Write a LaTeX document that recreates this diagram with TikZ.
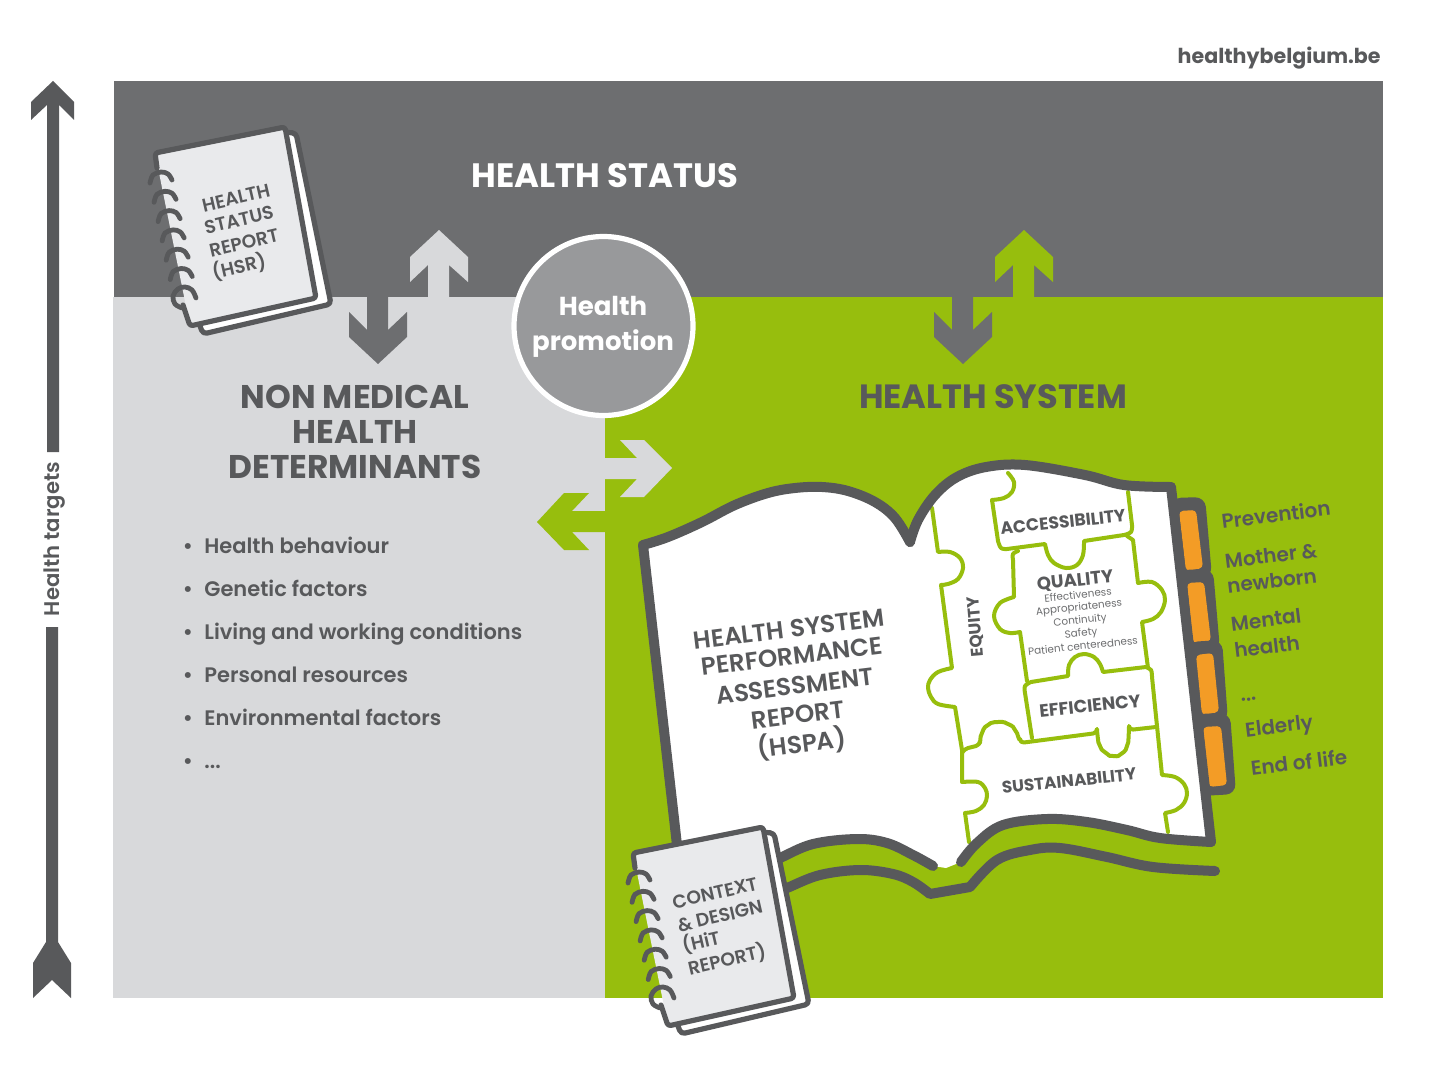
\documentclass[tikz,border=0pt]{standalone}
\usepackage{fontspec}
\setmainfont{Poppins}[BoldFont=Poppins Bold]
\newfontfamily\fmed{Poppins Medium}
\newfontfamily\fsemi{Poppins SemiBold}
\definecolor{bandgrey}{HTML}{6D6E70}
\definecolor{lightgrey}{HTML}{D8D9DB}
\definecolor{leaf}{HTML}{97BE0D}
\definecolor{ink}{HTML}{58595B}
\definecolor{tabor}{HTML}{F39C26}
\definecolor{circgrey}{HTML}{98999B}
\definecolor{coverg}{HTML}{E9EAEC}
\newcommand\fs[1]{\fontsize{#1}{#1}\selectfont}
\tikzset{
  tx/.style={inner sep=0pt,text=ink,anchor=center,font=\fs{#1},text height={#1*0.7pt},text depth=0pt},
  bookline/.style={draw=ink,line width=5pt,line cap=round,line join=round},
  pz/.style={draw=leaf,line width=2pt,line cap=round,line join=round},
  smth/.style={smooth,tension=0.6},
  nbline/.style={draw=ink,line width=2.6pt,line join=round,line cap=round},
  ring/.style={draw=ink,line width=2.4pt,line cap=round},
}
\newcommand\notebook[2]{%
\begin{scope}[shift={(#1,#2)}]
  \draw[nbline,fill=white,rounded corners=2pt] (280,132)--(296,133)--(331,304)--(203,334)--(197,318)--cycle;
  \fill[coverg] (155,153)--(285,127)--(316,298)--(190,326)--cycle;
  \draw[nbline,rounded corners=1.5pt] (157,168)--(155,153)--(285,127)--(316,298)--(190,326)--(183,305);
  \foreach \i in {0,1,2,3,4,5}{
    \draw[ring,shift={(\i*4.05,\i*19.3)}] plot[smth] coordinates {(150,183)(153,175)(161,172)(168,174)(172,180)};
  }
  \draw[ring] plot[smth] coordinates {(182,308)(175,304)(173,296)(178,289)(185,287)(192,290)(196,298)};
\end{scope}}
\begin{document}
\begin{tikzpicture}[x=0.5pt,y=-0.5pt]
\useasboundingbox (0,0) rectangle (1440,1065);
% panels
\fill[bandgrey] (114,81) rectangle (1383,297);
\fill[lightgrey] (113,297) rectangle (605,998);
\fill[leaf] (605,297) rectangle (1383,998);
% vertical arrows
\fill[lightgrey] (439,230)--(468,257)--(468,282)--(449,265)--(449,297)--(428,297)--(428,265)--(410,282)--(410,257)--cycle;
\fill[bandgrey] (378,364)--(407,337)--(407,312)--(388,330)--(388,297)--(367,297)--(367,330)--(349,312)--(349,337)--cycle;
\fill[leaf] (1024,230)--(1053,257)--(1053,282)--(1034,265)--(1034,297)--(1013,297)--(1013,265)--(995,282)--(995,257)--cycle;
\fill[bandgrey] (963,364)--(992,337)--(992,312)--(973,330)--(973,297)--(952,297)--(952,330)--(934,312)--(934,337)--cycle;
% horizontal arrows
\fill[lightgrey] (672,468)--(644,497)--(620,497)--(637,479)--(605,479)--(605,458)--(637,458)--(620,440)--(644,440)--cycle;
\fill[leaf] (537,522)--(564,493)--(589,493)--(572,511)--(605,511)--(605,532)--(572,532)--(589,550)--(564,550)--cycle;
% health targets arrow
\fill[ink] (53,81)--(74,102)--(74,120)--(59,105)--(59,452)--(47,452)--(47,105)--(31,120)--(31,102)--cycle;
\fill[ink] (46,627)--(58,627)--(58,942)--(71,963)--(71,998)--(52,980)--(33,998)--(33,963)--(46,942)--cycle;
\node[tx=10.6,rotate=90] (targets) at (52,539) {\fsemi Health targets};
% circle
\node[circle,draw=white,line width=2.6pt,fill=circgrey,minimum size=89.5pt,inner sep=0pt] (promo) at (603.5,326) {};
\node[tx=13,text=white] (promo1) at (603,306) {\bfseries Health};
\node[tx=13,text=white] (promo2) at (603,341) {\bfseries promotion};
% headings
\node[tx=16.9,text=white] (status) at (605,176) {\bfseries HEALTH STATUS};
\node[tx=16.4] (nm1) at (355,397) {\bfseries NON MEDICAL};
\node[tx=16.4] (nm2) at (355,432) {\bfseries HEALTH};
\node[tx=16.4] (nm3) at (355,467) {\bfseries DETERMINANTS};
\node[tx=16.8] (hsys) at (993,397) {\bfseries HEALTH SYSTEM};
\node[tx=10.3,anchor=east] (site) at (1381,56) {\bfseries healthybelgium.be};
% list
\foreach \n/\y/\t in {a/546/Health behaviour,b/589/Genetic factors,c/632/Living and working conditions,d/675/Personal resources,e/718/Environmental factors}{
  \node[tx=10.5] (bul\n) at (188,\y) {\fsemi •};
  \node[tx=10.5,anchor=west] (item\n) at (204,\y) {\fsemi \t};
}
\node[tx=10.5] (bulf) at (188,761) {\fsemi •};
\node[tx=10.5,anchor=west] (itemf) at (204,761) {\fsemi ...};
% tabs
\foreach \n/\ax/\ay/\bx/\by/\cx/\cy/\dx/\dy in {1/1179/511/1196/510/1203/568/1186/571,2/1187/583/1204/582/1211/641/1193/643,3/1196/655/1213/653/1219/712/1202/715,4/1203/727/1221/726/1227/785/1209/787}{
  \fill[ink,rounded corners=5pt] (\ax-8,\ay-13)--(\bx+9,\by-13)--(\cx+9,\cy+9)--(\dx-8,\dy+9)--cycle;
  \fill[tabor,rounded corners=2pt] (\ax,\ay)--(\bx,\by)--(\cx,\cy)--(\dx,\dy)--cycle;
}
% book page fill
\fill[white] plot[smth] coordinates {(643,545)(668,537)(702,522)(735,505)(768,493)(795,488)(822,487)(848,491)(875,502)(895,518)(910,542)}
  -- plot[smth] coordinates {(910,542)(918,520)(935,495)(957,477)(986,467)(1025,465)(1085,475)(1124,485)(1171,487)}
  -- (1211,842)
  -- plot[smth] coordinates {(1211,842)(1160,838)(1127,830)(1087,822)(1047,819)(1003,825)(977,843)(961,862)}
  -- (946,868) -- (933,866)
  -- plot[smth] coordinates {(933,866)(913,855)(887,843)(857,839)(813,844)(780,858)}
  -- (770,862) -- (677,845) -- cycle;
% puzzle
\draw[pz] (932,508)--(938,552) -- plot[smth] coordinates {(938,552)(950,552)(960,558)(963,568)(958,579)(948,584)(941,585)} -- (952,668) -- plot[smth] coordinates {(952,668)(938,672)(930,680)(928,688)(931,697)(938,704)(955,707)} -- (962,750) -- (962,782) -- plot[smth] coordinates {(962,782)(978,782)(985,788)(987,796)(984,805)(976,811)(965,813)} -- (969,842);
\draw[pz,rounded corners=2pt] (962,753)--(964,749)--(980,745) -- plot[smth] coordinates {(980,745)(982,733)(988,725)(998,722)(1008,724)(1015,730)(1020,743)} -- (1097,733) -- plot[smth] coordinates {(1097,733)(1100,746)(1106,753)(1113,756)(1121,754)(1127,746)(1129,730)} -- (1156,727);
\draw[pz] (1032,738)--(1025,693) -- plot[smth] coordinates {(1025,693)(1025,686)(1031,682)} -- (1068,676) -- plot[smth] coordinates {(1068,676)(1069,665)(1075,657)(1084,654)(1094,657)(1100,664)(1103,672)} -- (1146,667) -- plot[smth] coordinates {(1146,667)(1151,670)(1152,677)} -- (1162,775) -- plot[smth] coordinates {(1162,775)(1175,777)(1184,784)(1187,793)(1184,803)(1176,810)(1165,813)} -- (1168,832);
\draw[pz] (1027,681)--(1020,632) -- plot[smth] coordinates {(1020,632)(1010,633)(1000,629)(994,616)(1000,603)(1014,597)} -- (1013,560) -- plot[smth] coordinates {(1013,560)(1013,554)(1018,551)};
\draw[pz] plot[smth] coordinates {(1008,473)(1014,482)(1012,492)(1004,498)(992,500)} -- (998,541) -- plot[smth] coordinates {(998,541)(1001,548)(1007,549)} -- (1045,544) -- plot[smth] coordinates {(1045,544)(1048,555)(1054,563)(1066,568)(1077,565)(1083,555)(1084,541)} -- (1124,535) -- plot[smth] coordinates {(1124,535)(1131,532)(1132,525)} -- (1128,492);
\draw[pz] (1127,536)--(1133,540)--(1138,583) -- plot[smth] coordinates {(1138,583)(1152,582)(1162,590)(1165,600)(1161,612)(1153,619)(1142,622)} -- (1148,668);
% book outline
\draw[bookline] (677,845)--(643,545);
\draw[bookline] plot[smth] coordinates {(643,545)(668,537)(702,522)(735,505)(768,493)(795,488)(822,487)(848,491)(875,502)(895,518)(910,542)};
\draw[bookline] plot[smth] coordinates {(910,542)(918,520)(935,495)(957,477)(986,467)(1025,465)(1085,475)(1124,485)(1171,487)};
\draw[bookline] (1171,487)--(1211,842);
\draw[bookline] plot[smth] coordinates {(1211,842)(1160,838)(1127,830)(1087,822)(1047,819)(1003,825)(977,843)(961,862)};
\draw[bookline] plot[smth] coordinates {(933,866)(913,855)(887,843)(857,839)(813,844)(780,858)(770,862)};
\draw[bookline] plot[smth] coordinates {(1215,871)(1153,867)(1107,857)(1060,848)(1030,850)(997,860)(970,887)} -- plot[smth] coordinates {(970,887)(930,894)} -- plot[smth] coordinates {(930,894)(913,882)(893,874)(860,870)(820,875)(787,888)(770,895)};
% book labels
\foreach \n/\x/\y/\t in {h1/789/629/HEALTH SYSTEM,h2/792/656/PERFORMANCE,h3/795/686/ASSESSMENT,h4/798/715/REPORT,h5/802/744/(HSPA)}{
  \node[tx=12.3,rotate=7] (\n) at (\x,\y) {\fsemi \t};
}
\node[tx=8.6,rotate=6] (acc) at (1063,522) {\bfseries ACCESSIBILITY};
\node[tx=9,rotate=6] (qual) at (1075,580) {\bfseries QUALITY};
\node[tx=5.2,rotate=6,text=bandgrey] (q1) at (1078,595) {Effectiveness};
\node[tx=5.2,rotate=6,text=bandgrey] (q2) at (1079,607) {Appropriateness};
\node[tx=5.2,rotate=6,text=bandgrey] (q3) at (1080,620) {Continuity};
\node[tx=5.2,rotate=6,text=bandgrey] (q4) at (1081,633) {Safety};
\node[tx=5.2,rotate=6,text=bandgrey] (q5) at (1083,646) {Patient centeredness};
\node[tx=8.9,rotate=6] (eff) at (1090,706) {\bfseries EFFICIENCY};
\node[tx=8.4,rotate=6] (sus) at (1069,781) {\bfseries SUSTAINABILITY};
\node[tx=8.4,rotate=95] (eq) at (975,627) {\bfseries EQUITY};
% tab labels
\foreach \n/\x/\y/\t in {t1/1276/515/Prevention,t2/1271/556/Mother \&,t3/1272/581/newborn,t4/1266/620/Mental,t5/1267/647/health,t7/1279/726/Elderly,t8/1299/763/End of life}{
  \node[tx=10,rotate=7] (\n) at (\x,\y) {\fsemi \t};
}
\node[tx=10,rotate=7] (t6) at (1248,694) {\fsemi ...};
% notebooks
\notebook{0}{0}
\node[tx=9.3,rotate=13] (n11) at (236,198) {\fsemi HEALTH};
\node[tx=9.3,rotate=13] (n12) at (239,220) {\fsemi STATUS};
\node[tx=9.3,rotate=13] (n13) at (244,243) {\fsemi REPORT};
\node[tx=9.3,rotate=13] (n14) at (239,267) {\fsemi (HSR)};
\notebook{478}{700}
\node[tx=9.3,rotate=13] (n21) at (715,893) {\fsemi CONTEXT};
\node[tx=9.3,rotate=13] (n22) at (720,916) {\fsemi \& DESIGN};
\node[tx=9.3,rotate=13] (n23) at (701,942) {\fsemi (HiT};
\node[tx=9.3,rotate=13] (n24) at (727,960) {\fsemi REPORT)};
\end{tikzpicture}
\end{document}
